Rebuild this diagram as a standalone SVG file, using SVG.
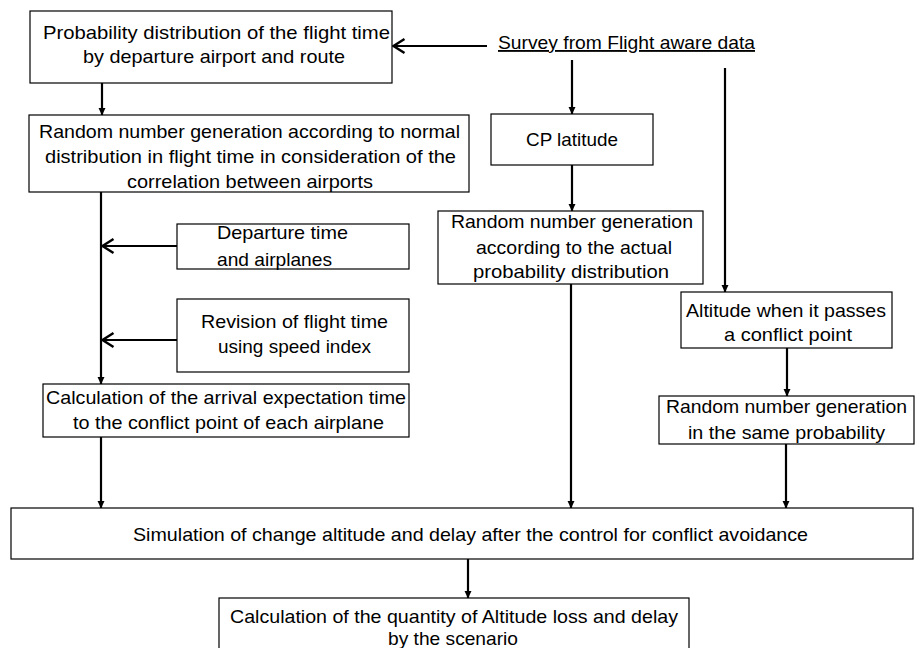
<svg xmlns="http://www.w3.org/2000/svg" width="915" height="648" viewBox="0 0 915 648">
<defs>
<style>
.box{fill:#fff;stroke:#000;stroke-width:1.2}
.t{font-family:"Liberation Sans",Arial,sans-serif;font-size:18.5px;fill:#000;text-anchor:middle}
.tl{text-anchor:start}
.c{stroke:#000;stroke-width:2.2;fill:none}
</style>
<marker id="tri" viewBox="0 0 8 8" refX="7.5" refY="4" markerWidth="8" markerHeight="8" orient="auto" markerUnits="userSpaceOnUse">
<path d="M0,0.3 L8,4 L0,7.7 z" fill="#000"/>
</marker>
<marker id="chev" viewBox="0 0 15 18" refX="13.5" refY="9" markerWidth="15" markerHeight="18" orient="auto" markerUnits="userSpaceOnUse">
<path d="M2,2 L13,9 L2,16" fill="none" stroke="#000" stroke-width="2.5"/>
</marker>
</defs>
<rect width="915" height="648" fill="#fff"/>
<g id="connectors">
<line class="c" x1="487" y1="46" x2="393" y2="46" marker-end="url(#chev)"/>
<line class="c" x1="102" y1="83" x2="102" y2="115" marker-end="url(#tri)"/>
<line class="c" x1="101" y1="192" x2="101" y2="384" marker-end="url(#tri)"/>
<line class="c" x1="177" y1="246" x2="102" y2="246" marker-end="url(#chev)"/>
<line class="c" x1="177" y1="340" x2="102" y2="340" marker-end="url(#chev)"/>
<line class="c" x1="101" y1="437" x2="101" y2="508" marker-end="url(#tri)"/>
<line class="c" x1="572" y1="60" x2="572" y2="114" marker-end="url(#tri)"/>
<line class="c" x1="572" y1="165" x2="572" y2="211" marker-end="url(#tri)"/>
<line class="c" x1="571" y1="284" x2="571" y2="508" marker-end="url(#tri)"/>
<line class="c" x1="725" y1="68" x2="725" y2="292" marker-end="url(#tri)"/>
<line class="c" x1="787" y1="348" x2="787" y2="396" marker-end="url(#tri)"/>
<line class="c" x1="786" y1="444" x2="786" y2="508" marker-end="url(#tri)"/>
<line class="c" x1="468" y1="559" x2="468" y2="598" marker-end="url(#tri)"/>
</g>
<g id="survey">
<text class="t" x="626.5" y="49" textLength="257" lengthAdjust="spacingAndGlyphs" text-decoration="underline">Survey from Flight aware data</text>
</g>
<g id="prob-dist">
<rect class="box" x="30" y="11" width="362" height="72"/>
<text class="t" x="216.5" y="39" textLength="347" lengthAdjust="spacingAndGlyphs">Probability distribution of the flight time</text>
<text class="t" x="214" y="63" textLength="262" lengthAdjust="spacingAndGlyphs">by departure airport and route</text>
</g>
<g id="random-normal">
<rect class="box" x="29" y="115" width="440" height="77"/>
<text class="t" x="249.5" y="138" textLength="421" lengthAdjust="spacingAndGlyphs">Random number generation according to normal</text>
<text class="t" x="250.5" y="163" textLength="411" lengthAdjust="spacingAndGlyphs">distribution in flight time in consideration of the</text>
<text class="t" x="250" y="188" textLength="246" lengthAdjust="spacingAndGlyphs">correlation between airports</text>
</g>
<g id="departure">
<rect class="box" x="177" y="224" width="232" height="45"/>
<text class="t tl" x="217" y="239" textLength="131" lengthAdjust="spacingAndGlyphs">Departure time</text>
<text class="t tl" x="217" y="266" textLength="115" lengthAdjust="spacingAndGlyphs">and airplanes</text>
</g>
<g id="revision">
<rect class="box" x="177" y="299" width="232" height="73"/>
<text class="t" x="294.5" y="328" textLength="187" lengthAdjust="spacingAndGlyphs">Revision of flight time</text>
<text class="t" x="294.5" y="353" textLength="153" lengthAdjust="spacingAndGlyphs">using speed index</text>
</g>
<g id="arrival-calc">
<rect class="box" x="43" y="384" width="366" height="53"/>
<text class="t" x="226" y="404" textLength="360" lengthAdjust="spacingAndGlyphs">Calculation of the arrival expectation time</text>
<text class="t" x="228.5" y="429" textLength="311" lengthAdjust="spacingAndGlyphs">to the conflict point of each airplane</text>
</g>
<g id="cp-latitude">
<rect class="box" x="491" y="114" width="162" height="51"/>
<text class="t" x="572" y="146" textLength="92" lengthAdjust="spacingAndGlyphs">CP latitude</text>
</g>
<g id="random-actual">
<rect class="box" x="438" y="211" width="265" height="73"/>
<text class="t" x="572" y="228" textLength="242" lengthAdjust="spacingAndGlyphs">Random number generation</text>
<text class="t" x="574" y="254" textLength="196" lengthAdjust="spacingAndGlyphs">according to the actual</text>
<text class="t" x="571" y="278" textLength="196" lengthAdjust="spacingAndGlyphs">probability distribution</text>
</g>
<g id="altitude">
<rect class="box" x="681" y="292" width="211" height="56"/>
<text class="t" x="786" y="317" textLength="200" lengthAdjust="spacingAndGlyphs">Altitude when it passes</text>
<text class="t" x="788" y="341" textLength="128" lengthAdjust="spacingAndGlyphs">a conflict point</text>
</g>
<g id="random-same">
<rect class="box" x="659" y="396" width="255" height="48"/>
<text class="t" x="786.5" y="413" textLength="241" lengthAdjust="spacingAndGlyphs">Random number generation</text>
<text class="t" x="786.5" y="439" textLength="197" lengthAdjust="spacingAndGlyphs">in the same probability</text>
</g>
<g id="simulation">
<rect class="box" x="11" y="508" width="902" height="51"/>
<text class="t" x="470.5" y="541" textLength="675" lengthAdjust="spacingAndGlyphs">Simulation of change altitude and delay after the control for conflict avoidance</text>
</g>
<g id="quantity-calc">
<rect class="box" x="219" y="598" width="470" height="60"/>
<text class="t" x="454" y="623" textLength="448" lengthAdjust="spacingAndGlyphs">Calculation of the quantity of Altitude loss and delay</text>
<text class="t" x="453" y="645" textLength="130" lengthAdjust="spacingAndGlyphs">by the scenario</text>
</g>
</svg>
